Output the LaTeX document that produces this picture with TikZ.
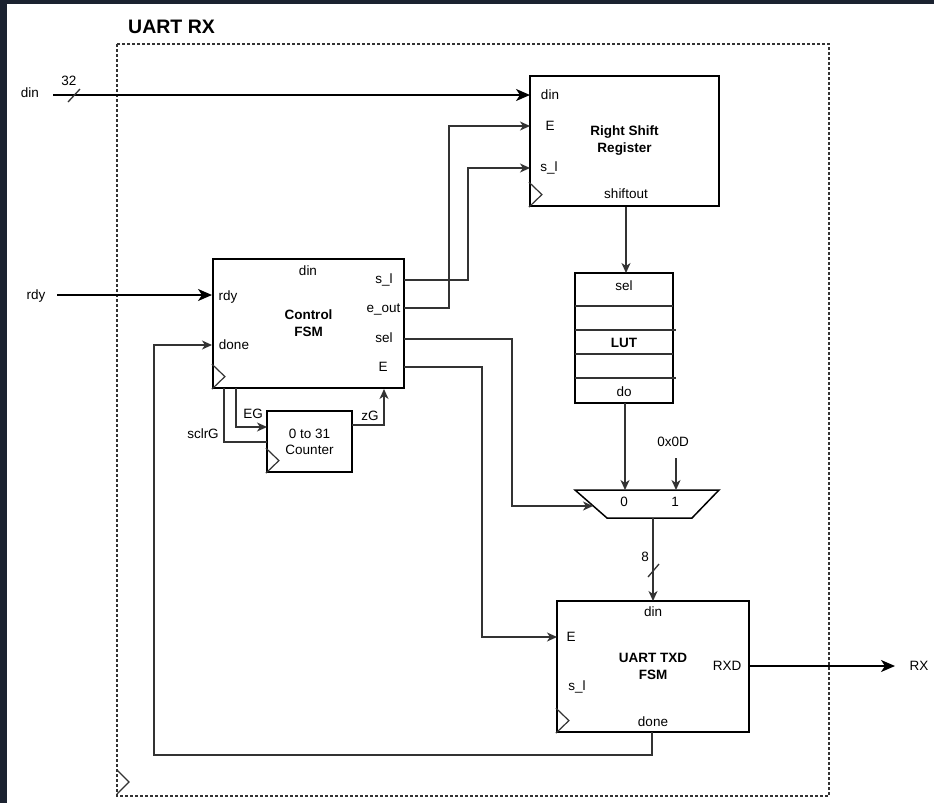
\documentclass[tikz,border=0pt]{standalone}
\usepackage{fontspec}
\setmainfont{Liberation Sans}
\usetikzlibrary{arrows.meta,calc}

\definecolor{framebg}{HTML}{1B2230}
\definecolor{wiregray}{HTML}{333333}

% clock mark in the lower left corner of a block
\newcommand{\clocktri}[1]{\draw[clk] ($(#1.south west)+(0,-25)$) -- ++(13,12.5) -- ++(-13,12.5);}

\begin{document}
\begin{tikzpicture}[
  x=1pt, y=-1pt,
  every node/.style={font=\fontsize{13.5}{16}\selectfont, inner sep=0pt},
  plabel/.style={text height=9.7pt, text depth=0pt},
  block/.style={draw, line width=2.2pt, inner sep=0pt},
  btitle/.style={font=\fontsize{13.5}{17}\selectfont\bfseries, align=center},
  sig/.style={draw=wiregray, line width=1.3pt},
  thin->/.style={sig, -{Stealth[length=10pt,width=9pt,inset=3pt]}},
  bus->/.style={draw=black, line width=2pt, -{Stealth[length=14pt,width=12pt,inset=4pt]}},
  clk/.style={draw=wiregray, line width=1.2pt},
]
  \useasboundingbox (0,0) rectangle (934,803);
  \fill[white] (0,0) rectangle (934,803);
  \fill[framebg] (0,0) rectangle (934,4);
  \fill[framebg] (0,0) rectangle (7,803);

  % UART RX boundary
  \draw[wiregray, line width=1.2pt, dash pattern=on 3pt off 2pt] (117,44) rectangle (829,796);
  \draw[clk] (117,770) -- (129,782) -- (117,794);
  \node[font=\fontsize{19.5}{22}\selectfont\bfseries, anchor=base west] (ttl) at (128,33) {UART RX};

  % Blocks
  \node[block, btitle, minimum width=189pt, minimum height=130pt] (rsr) at (624.5,141) {Right Shift\\Register};
  \node[block, btitle, minimum width=191pt, minimum height=129pt] (fsm) at (308.5,323.5) {Control\\FSM};
  \node[block, align=center, minimum width=85pt, minimum height=61pt] (cnt) at (309.5,441.5) {0 to 31\\Counter};
  \node[block, minimum width=98pt, minimum height=130pt] (lut) at (624,338) {};
  \node[block, btitle, minimum width=192pt, minimum height=131pt] (txd) at (653,666.5) {UART TXD\\FSM};
  \clocktri{rsr}
  \clocktri{fsm}
  \clocktri{cnt}
  \clocktri{txd}

  % LUT rows
  \foreach \ry/\rx in {306/673, 330/676, 354/673, 378/676}
    \draw[sig] (575,\ry) -- (\rx,\ry);

  % Mux
  \draw[line width=1.5pt] (575,490) -- (719,490) -- (692,518) -- (607,518) -- cycle;

  % Port labels
  \node[plabel] (rsr-l1) at (550,95) {din};
  \node[plabel] (rsr-l2) at (550,126) {E};
  \node[plabel] (rsr-l3) at (549,167) {s\_l};
  \node[plabel] (rsr-l4) at (626,194) {shiftout};
  \node[plabel] (fsm-l1) at (308,271) {din};
  \node[plabel] (fsm-l2) at (228,296) {rdy};
  \node[plabel] (fsm-l3) at (234,345) {done};
  \node[plabel] (fsm-l4) at (384,279) {s\_l};
  \node[plabel] (fsm-l5) at (383.5,308) {e\_out};
  \node[plabel] (fsm-l6) at (384,338) {sel};
  \node[plabel] (fsm-l7) at (383,367) {E};
  \node[plabel] (lut-l1) at (624,286) {sel};
  \node[plabel, font=\fontsize{13.5}{16}\selectfont\bfseries] (lut-l2) at (624,343) {LUT};
  \node[plabel] (lut-l3) at (624,392) {do};
  \node[plabel] (mux-l0) at (624,502) {0};
  \node[plabel] (mux-l1) at (675,502) {1};
  \node[plabel] (txd-l1) at (653,612) {din};
  \node[plabel] (txd-l2) at (571,637) {E};
  \node[plabel] (txd-l3) at (727,666) {RXD};
  \node[plabel] (txd-l4) at (577,686) {s\_l};
  \node[plabel] (txd-l5) at (653,722) {done};
  \node[plabel] (lbl-EG) at (253,414) {EG};
  \node[plabel] (lbl-zG) at (370,416) {zG};
  \node[plabel] (lbl-sclr) at (203,434) {sclrG};
  \node[plabel] (lbl-k) at (673,442) {0x0D};
  \node[plabel] (lbl-8) at (645,557) {8};
  \node[plabel] (lbl-32) at (69,81) {32};
  \node[plabel] (in-din) at (30,93) {din};
  \node[plabel] (in-rdy) at (36,295) {rdy};
  \node[plabel] (out-rx) at (919,666) {RX};

  % Pins
  \coordinate (rsr-din) at (530,95);
  \coordinate (rsr-E) at (530,126);
  \coordinate (rsr-sl) at (530,168);
  \coordinate (rsr-so) at (626,207);
  \coordinate (fsm-rdy) at (212,295);
  \coordinate (fsm-done) at (212,345);
  \coordinate (fsm-sl) at (404,280);
  \coordinate (fsm-eout) at (404,308);
  \coordinate (fsm-sel) at (404,339);
  \coordinate (fsm-E) at (404,367);
  \coordinate (fsm-EG) at (236,388);
  \coordinate (fsm-sclr) at (224,388);
  \coordinate (fsm-zG) at (384,389);
  \coordinate (cnt-EG) at (267,427);
  \coordinate (cnt-sclr) at (267,442);
  \coordinate (cnt-zG) at (352,425);
  \coordinate (lut-sel) at (626,273);
  \coordinate (lut-do) at (625,403);
  \coordinate (mux-0) at (625,490);
  \coordinate (mux-1) at (676,490);
  \coordinate (mux-sel) at (593,506);
  \coordinate (mux-out) at (653,518);
  \coordinate (k-src) at (676,458);
  \coordinate (txd-din) at (653,601);
  \coordinate (txd-E) at (557,637);
  \coordinate (txd-done) at (652,732);
  \coordinate (txd-rxd) at (749,666);
  \coordinate (src-din) at (53,95);
  \coordinate (src-rdy) at (57,295);
  \coordinate (dst-rx) at (895,666);
  \coordinate (ret) at (154,755);

  % Connectors
  \draw[bus->] (src-din) -- (rsr-din);
  \draw[sig] (68,102) -- (80,89);
  \draw[bus->] (src-rdy) -- (fsm-rdy);
  \draw[thin->] (fsm-sl) -- ++(64,0) |- (rsr-sl);
  \draw[thin->] (fsm-eout) -- ++(45,0) |- (rsr-E);
  \draw[thin->] (fsm-sel) -- ++(108,0) |- (mux-sel);
  \draw[thin->] (fsm-E) -- ++(78,0) |- (txd-E);
  \draw[thin->] (txd-done) |- (ret) |- (fsm-done);
  \draw[thin->] (fsm-EG) |- (cnt-EG);
  \draw[sig] (fsm-sclr) |- (cnt-sclr);
  \draw[thin->] (cnt-zG) -| (fsm-zG);
  \draw[thin->] (rsr-so) -- (lut-sel);
  \draw[thin->] (lut-do) -- (mux-0);
  \draw[thin->] (k-src) -- (mux-1);
  \draw[thin->] (mux-out) -- (txd-din);
  \draw[sig] (648,577) -- (659,564);
  \draw[bus->] (txd-rxd) -- (dst-rx);
\end{tikzpicture}
\end{document}
